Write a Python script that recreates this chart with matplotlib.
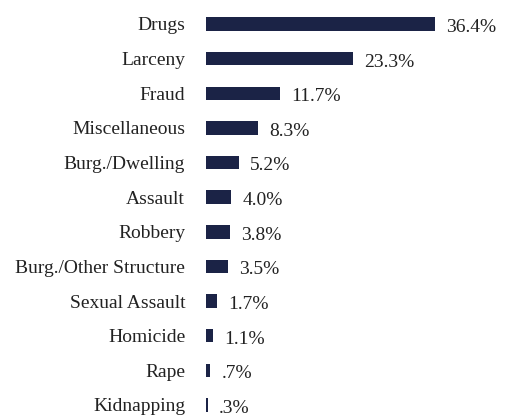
import matplotlib
matplotlib.use("Agg")
import matplotlib.pyplot as plt

# ---------------------------------------------------------------- data

categories = ["Drugs", "Larceny", "Fraud", "Miscellaneous", "Burg./Dwelling",
              "Assault", "Robbery", "Burg./Other Structure", "Sexual Assault",
              "Homicide", "Rape", "Kidnapping"]
shares = [36.4, 23.3, 11.7, 8.3, 5.2, 4.0, 3.8, 3.5, 1.7, 1.1, 0.7, 0.3]

NAVY = "#1b2346"
TEXT = "#222222"
plt.rcParams["font.family"] = ["Liberation Serif", "DejaVu Serif"]

# ---------------------------------------------------------------- figure

fig = plt.figure(figsize=(5.08, 4.16), dpi=100)
ax = fig.add_axes([0.4055, 0.0, 0.5945, 1.0])

ypos = list(range(len(categories)))
ax.barh(ypos, shares, height=0.39, color=NAVY)

for y, v in zip(ypos, shares):
    txt = f"{v:.1f}%"
    if txt.startswith("0"):
        txt = txt[1:]
    ax.annotate(txt, xy=(v, y), xytext=(8, -2.5), textcoords="offset points",
                va="center", ha="left", fontsize=14, color=TEXT)

ax.set_yticks(ypos)
ax.set_yticklabels(categories, fontsize=14, color=TEXT)
ax.tick_params(axis="y", length=0, pad=15)
ax.set_xticks([])
ax.set_xlim(0, 48.0)
ax.set_ylim(11.32, -0.693)
for s in ax.spines.values():
    s.set_visible(False)

fig.savefig("out.png", dpi=100)
